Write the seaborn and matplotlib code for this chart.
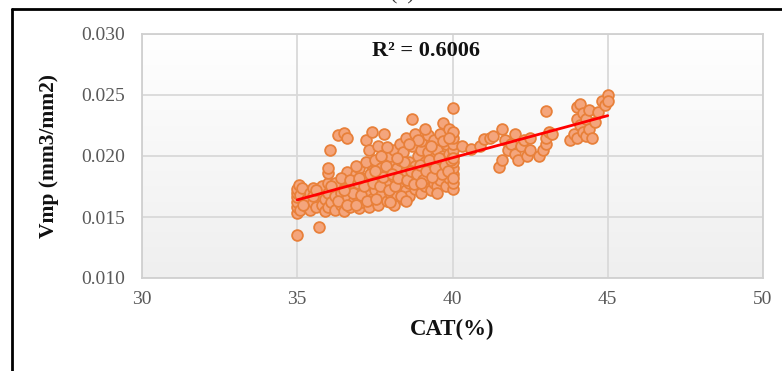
import numpy as np
import pandas as pd
import matplotlib
matplotlib.use("Agg")
import matplotlib.pyplot as plt
from matplotlib.lines import Line2D
import seaborn as sns

# ---- data ----
cat_x = [
    35.0, 35.0, 35.0, 35.0, 35.0, 35.0, 35.0, 35.05, 35.1, 35.1, 35.15,
    35.3, 35.3, 35.4, 35.4, 35.5, 35.5, 35.6, 35.7, 35.7, 35.8, 35.8, 35.9, 35.9,
    36.0, 36.0, 36.0, 36.0, 36.0, 36.05,
    36.1, 36.2, 36.2, 36.3, 36.3, 36.4, 36.4, 36.5, 36.5, 36.5, 36.6, 36.6, 36.6,
    36.7, 36.7, 36.8, 36.8, 36.9, 36.9, 37.0, 37.0, 37.0,
    37.1, 37.1, 37.2, 37.2, 37.2, 37.3, 37.3, 37.3, 37.4, 37.4, 37.4, 37.5, 37.5,
    37.6, 37.6, 37.6, 37.7, 37.7, 37.8, 37.8, 37.8, 37.9, 37.9, 38.0, 38.0, 38.0, 38.0,
    38.1, 38.1, 38.1, 38.2, 38.2, 38.3, 38.3, 38.3, 38.4, 38.4, 38.4, 38.5, 38.5, 38.5,
    38.6, 38.6, 38.6, 38.7, 38.7, 38.7, 38.8, 38.8, 38.8, 38.9, 38.9, 39.0, 39.0, 39.0, 39.0,
    39.1, 39.1, 39.2, 39.2, 39.2, 39.3, 39.3, 39.4, 39.4, 39.4, 39.5, 39.5, 39.5,
    39.6, 39.6, 39.6, 39.7, 39.7, 39.7, 39.8, 39.8, 39.8, 39.9, 39.9, 39.9,
    40.0, 40.0, 40.0, 40.0, 40.0, 40.0, 40.0, 40.0, 40.0, 40.0, 40.0,
    40.3, 40.6, 40.9, 41.0, 41.2, 41.3,
    41.5, 41.6, 41.6, 41.7, 41.8, 41.9, 42.0, 42.0, 42.1, 42.2, 42.3, 42.4, 42.5, 42.5,
    42.8, 42.9, 43.0, 43.0, 43.1, 43.0, 43.2,
    43.8, 43.9, 44.0, 44.0, 44.0, 44.1, 44.1, 44.2, 44.2, 44.3, 44.3, 44.4, 44.4,
    44.5, 44.6, 44.7, 44.8, 44.9, 45.0, 45.0,
    36.2, 36.3, 36.4, 36.6, 36.7, 36.8, 36.9, 36.95, 37.05, 37.15, 37.25, 37.35,
    37.45, 37.55, 37.65, 37.75, 37.85, 37.95, 38.05, 38.15, 38.25, 38.35, 38.45,
    38.55, 38.65, 38.75, 38.85, 38.95, 39.05, 39.15, 39.25, 39.35, 39.45, 39.55,
    39.65, 39.75, 39.85, 39.95, 37.5, 38.0, 38.5, 39.0, 39.5, 36.5, 37.0, 35.5,
    35.2, 35.6, 36.1, 38.9, 39.3, 39.7, 38.2, 37.7, 36.9, 37.9, 39.1, 38.6, 39.9,
    40.0, 40.0,
]
vmp_y = [
    0.0135, 0.0153, 0.0158, 0.0162, 0.0166, 0.0170, 0.0173, 0.0176, 0.0156, 0.0168, 0.0174,
    0.0158, 0.0165, 0.0170, 0.0156, 0.0162, 0.0174, 0.0158, 0.0142, 0.0168, 0.0160, 0.0175, 0.0155, 0.0165,
    0.0158, 0.0170, 0.0178, 0.0186, 0.0190, 0.0205,
    0.0162, 0.0156, 0.0167, 0.0175, 0.0217, 0.0160, 0.0170, 0.0155, 0.0180, 0.0219, 0.0165, 0.0187, 0.0215,
    0.0158, 0.0172, 0.0162, 0.0178, 0.0168, 0.0185, 0.0157, 0.0175, 0.0190,
    0.0162, 0.0182, 0.0170, 0.0195, 0.0213, 0.0158, 0.0177, 0.0205, 0.0165, 0.0188, 0.0220, 0.0172, 0.0197,
    0.0160, 0.0182, 0.0208, 0.0168, 0.0190, 0.0175, 0.0198, 0.0218, 0.0163, 0.0185, 0.0170, 0.0178, 0.0193, 0.0200,
    0.0160, 0.0183, 0.0205, 0.0168, 0.0190, 0.0175, 0.0197, 0.0210, 0.0165, 0.0182, 0.0203, 0.0172, 0.0188, 0.0215,
    0.0167, 0.0178, 0.0195, 0.0230, 0.0185, 0.0208, 0.0173, 0.0192, 0.0218, 0.0180, 0.0200, 0.0170, 0.0187, 0.0205, 0.0212,
    0.0175, 0.0195, 0.0182, 0.0203, 0.0217, 0.0172, 0.0190, 0.0178, 0.0198, 0.0213, 0.0185, 0.0205, 0.0175,
    0.0192, 0.0218, 0.0180, 0.0200, 0.0187, 0.0227, 0.0175, 0.0195, 0.0210, 0.0182, 0.0202, 0.0222,
    0.0173, 0.0178, 0.0185, 0.0190, 0.0195, 0.0200, 0.0205, 0.0210, 0.0215, 0.0220, 0.0239,
    0.0208, 0.0206, 0.0208, 0.0214, 0.0215, 0.0216,
    0.0191, 0.0197, 0.0222, 0.0213, 0.0205, 0.0210, 0.0218, 0.0202, 0.0197, 0.0208, 0.0213, 0.0200, 0.0205, 0.0215,
    0.0200, 0.0205, 0.0210, 0.0215, 0.0220, 0.0237, 0.0218,
    0.0213, 0.0218, 0.0215, 0.0230, 0.0240, 0.0225, 0.0243, 0.0220, 0.0235, 0.0216, 0.0230, 0.0222, 0.0238,
    0.0215, 0.0228, 0.0236, 0.0245, 0.0242, 0.0250, 0.0245,
    0.0178, 0.0163, 0.0182, 0.0160, 0.0180, 0.0170, 0.0160, 0.0178, 0.0168, 0.0175, 0.0163, 0.0185,
    0.0178, 0.0165, 0.0175, 0.0183, 0.0192, 0.0172, 0.0185, 0.0175, 0.0182, 0.0167, 0.0195,
    0.0180, 0.0188, 0.0177, 0.0185, 0.0193, 0.0180, 0.0188, 0.0197, 0.0183, 0.0190, 0.0198,
    0.0185, 0.0193, 0.0188, 0.0197, 0.0188, 0.0162, 0.0163, 0.0178, 0.0170, 0.0172, 0.0182, 0.0167,
    0.0160, 0.0172, 0.0175, 0.0213, 0.0208, 0.0212, 0.0198, 0.0200, 0.0192, 0.0207, 0.0222, 0.0210, 0.0215,
    0.0182, 0.0198,
]
x_ticks = [30, 35, 40, 45, 50]
y_ticks = [0.010, 0.015, 0.020, 0.025, 0.030]
y_tick_labels = ["0.010", "0.015", "0.020", "0.025", "0.030"]
r2_label = "R² = 0.6006"

df = pd.DataFrame({"CAT": cat_x, "Vmp": vmp_y})

sns.set_theme(style="white")
plt.rcParams["font.family"] = ["Liberation Serif", "DejaVu Serif"]

fig = plt.figure(figsize=(7.82, 3.71), dpi=100)
ax = fig.add_axes([142 / 782, 1 - 278 / 371, (763 - 142) / 782, (278 - 34) / 371])

# subtle vertical gradient background of plot area
grad = np.linspace(0, 1, 256).reshape(-1, 1)
ax.imshow(grad, extent=[30, 50, 0.010, 0.030], aspect="auto", origin="upper",
          cmap=matplotlib.colors.LinearSegmentedColormap.from_list("g", ["#FFFFFF", "#EFEFEF"]),
          zorder=0)

sns.regplot(data=df, x="CAT", y="Vmp", ax=ax, ci=None, truncate=True,
            scatter_kws=dict(s=60, color="#F4A57C", edgecolors="#E8803A", linewidths=1.3,
                             alpha=1.0, zorder=3),
            line_kws=dict(color="#FF0000", lw=2.0, zorder=4))

ax.set_xlim(30, 50)
ax.set_ylim(0.010, 0.030)
ax.set_xticks(x_ticks)
ax.set_yticks(y_ticks)
ax.set_yticklabels(y_tick_labels)
ax.grid(True, color="#D9D9D9", lw=1.3, zorder=1)
ax.set_axisbelow(True)
for sp in ax.spines.values():
    sp.set_color("#D0D0D0")
    sp.set_linewidth(1.3)
ax.tick_params(axis="both", length=0, labelsize=14, labelcolor="#595959")
ax.tick_params(axis="y", pad=12)
ax.tick_params(axis="x", pad=9)

ax.set_xlabel("CAT(%)", fontsize=16.5, fontweight="bold", color="#111111", labelpad=8)
ax.set_ylabel("Vmp (mm3/mm2)", fontsize=15.5, fontweight="bold", color="#111111", labelpad=16)

ax.text(37.4, 0.0286, r2_label, fontsize=16, fontweight="bold", color="#111111",
        va="center", ha="left", zorder=5)

# figure frame (top and left edges visible)
fig.add_artist(Line2D([12 / 782, 1.0], [1 - 9 / 371, 1 - 9 / 371], color="black", lw=2.0,
                      transform=fig.transFigure))
fig.add_artist(Line2D([12 / 782, 12 / 782], [0.0, 1 - 9 / 371], color="black", lw=2.0,
                      transform=fig.transFigure))
fig.text(402 / 782, 1 - 4 / 371, "(a)", fontsize=16, color="#333333", ha="center", va="bottom")

fig.savefig("out.png", dpi=100)
